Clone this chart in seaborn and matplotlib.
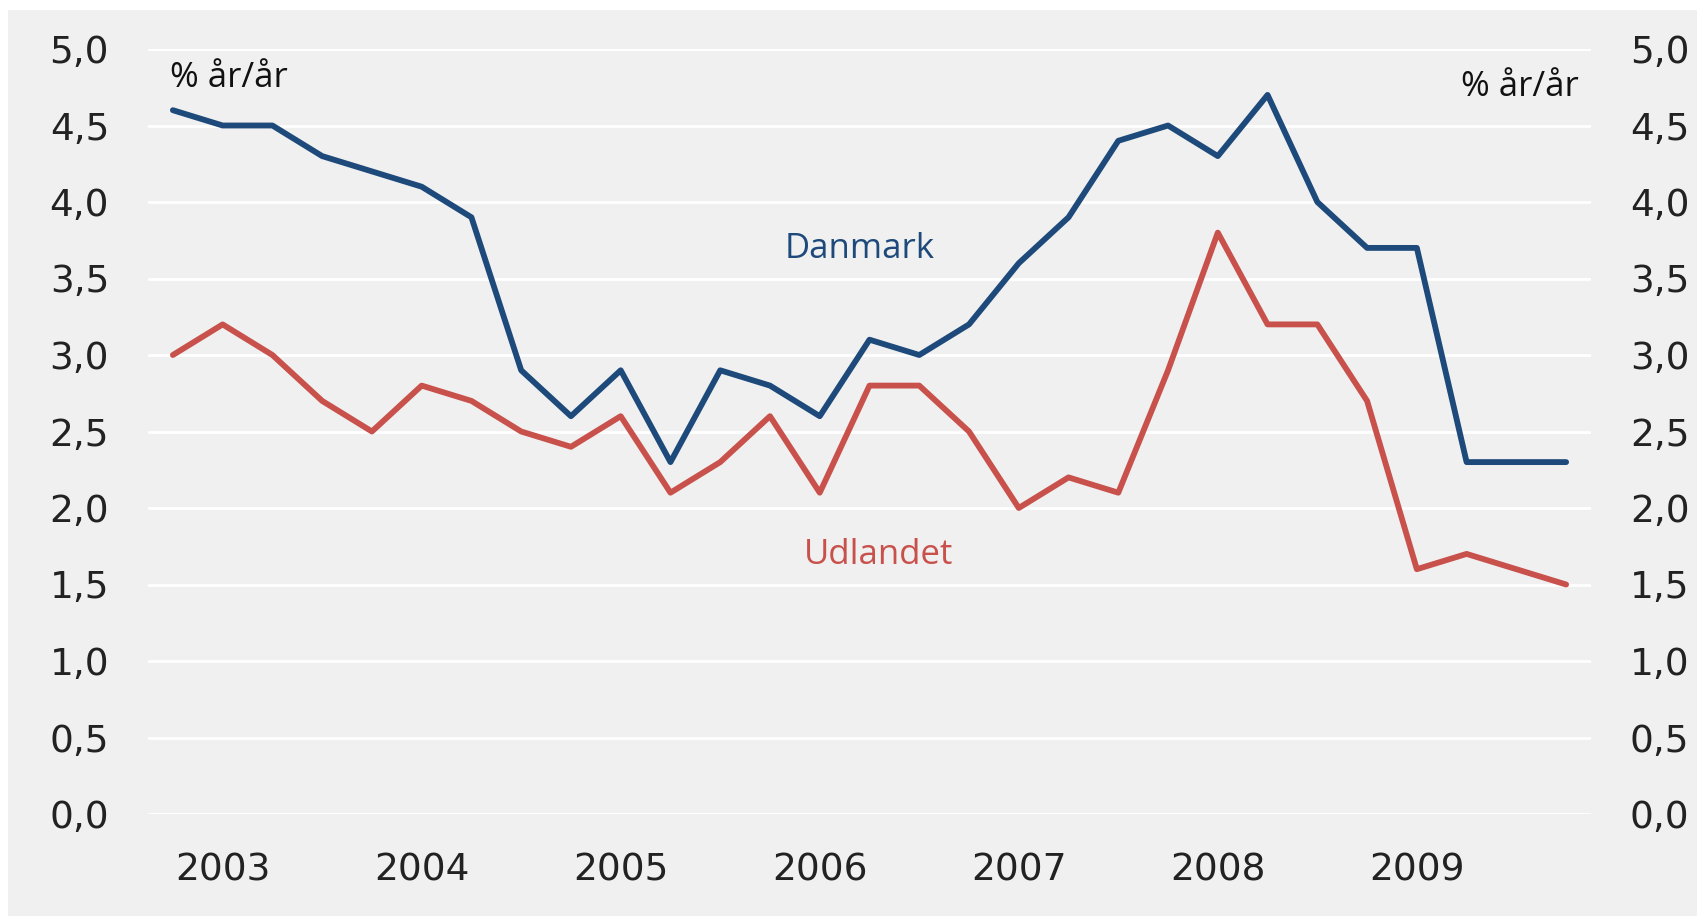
import matplotlib
matplotlib.use("Agg")
import matplotlib.pyplot as plt
import seaborn as sns
import pandas as pd
import numpy as np
from matplotlib.patches import Rectangle

# Data (quarterly, % year/year)
danmark = [4.6, 4.5, 4.5, 4.3, 4.2, 4.1, 3.9, 2.9, 2.6, 2.9, 2.3, 2.9, 2.8, 2.6, 3.1,
           3.0, 3.2, 3.6, 3.9, 4.4, 4.5, 4.3, 4.7, 4.0, 3.7, 3.7, 2.3, 2.3, 2.3]
udlandet = [3.0, 3.2, 3.0, 2.7, 2.5, 2.8, 2.7, 2.5, 2.4, 2.6, 2.1, 2.3, 2.6, 2.1, 2.8,
            2.8, 2.5, 2.0, 2.2, 2.1, 2.9, 3.8, 3.2, 3.2, 2.7, 1.6, 1.7, 1.6, 1.5]
years = ["2003", "2004", "2005", "2006", "2007", "2008", "2009"]
year_pos = [1, 5, 9, 13, 17, 21, 25]
yticks = [0.0, 0.5, 1.0, 1.5, 2.0, 2.5, 3.0, 3.5, 4.0, 4.5, 5.0]

n = len(danmark)
df = pd.DataFrame({
    "t": list(range(n)) * 2,
    "value": danmark + udlandet,
    "serie": ["Danmark"] * n + ["Udlandet"] * n,
})

sns.set_theme(style="white")
plt.rcParams["font.family"] = ["DejaVu Sans"]

blue = "#1d4a7a"
red = "#c8514b"
bg = "#f0f0f0"

fig = plt.figure(figsize=(16.97, 9.16), dpi=100, facecolor="white")
fig.patches.append(Rectangle((8 / 1697, 0), 1 - 8 / 1697, 1 - 10 / 916,
                             transform=fig.transFigure, facecolor=bg,
                             edgecolor="none", zorder=-10))
ax = fig.add_axes([148 / 1697, 1 - 814 / 916, (1591 - 148) / 1697, (814 - 49) / 916])
ax.set_facecolor(bg)

sns.lineplot(data=df, x="t", y="value", hue="serie", palette={"Danmark": blue, "Udlandet": red},
             linewidth=4.2, ax=ax, legend=False)

ax.set_xlim(-0.5, 28.5)
ax.set_ylim(0, 5)
ax.set_yticks(yticks)
ax.set_yticklabels([f"{v:.1f}".replace(".", ",") for v in yticks])
ax.set_xticks(year_pos)
ax.set_xticklabels(years)
ax.grid(axis="y", color="white", linewidth=2)
ax.grid(axis="x", visible=False)
ax.set_axisbelow(True)
for s in ax.spines.values():
    s.set_visible(False)
ax.set_xlabel("")
ax.set_ylabel("")
ax.tick_params(axis="y", which="both", length=0, labelsize=27, labelcolor="#222222",
               labelleft=True, labelright=True, pad=28)
ax.tick_params(axis="x", length=0, labelsize=27, labelcolor="#222222", pad=28)

tfont = ["Open Sans", "DejaVu Sans"]
ax.text(-0.06, 4.81, "% år/år", ha="left", va="center", fontsize=25, color="#111111", family=tfont)
ax.text(28.25, 4.75, "% år/år", ha="right", va="center", fontsize=25, color="#111111", family=tfont)
ax.text(13.8, 3.69, "Danmark", ha="center", va="center", fontsize=25, color=blue, family=tfont)
ax.text(14.18, 1.69, "Udlandet", ha="center", va="center", fontsize=25, color=red, family=tfont)

fig.savefig("out.png", dpi=100, facecolor=fig.get_facecolor())
